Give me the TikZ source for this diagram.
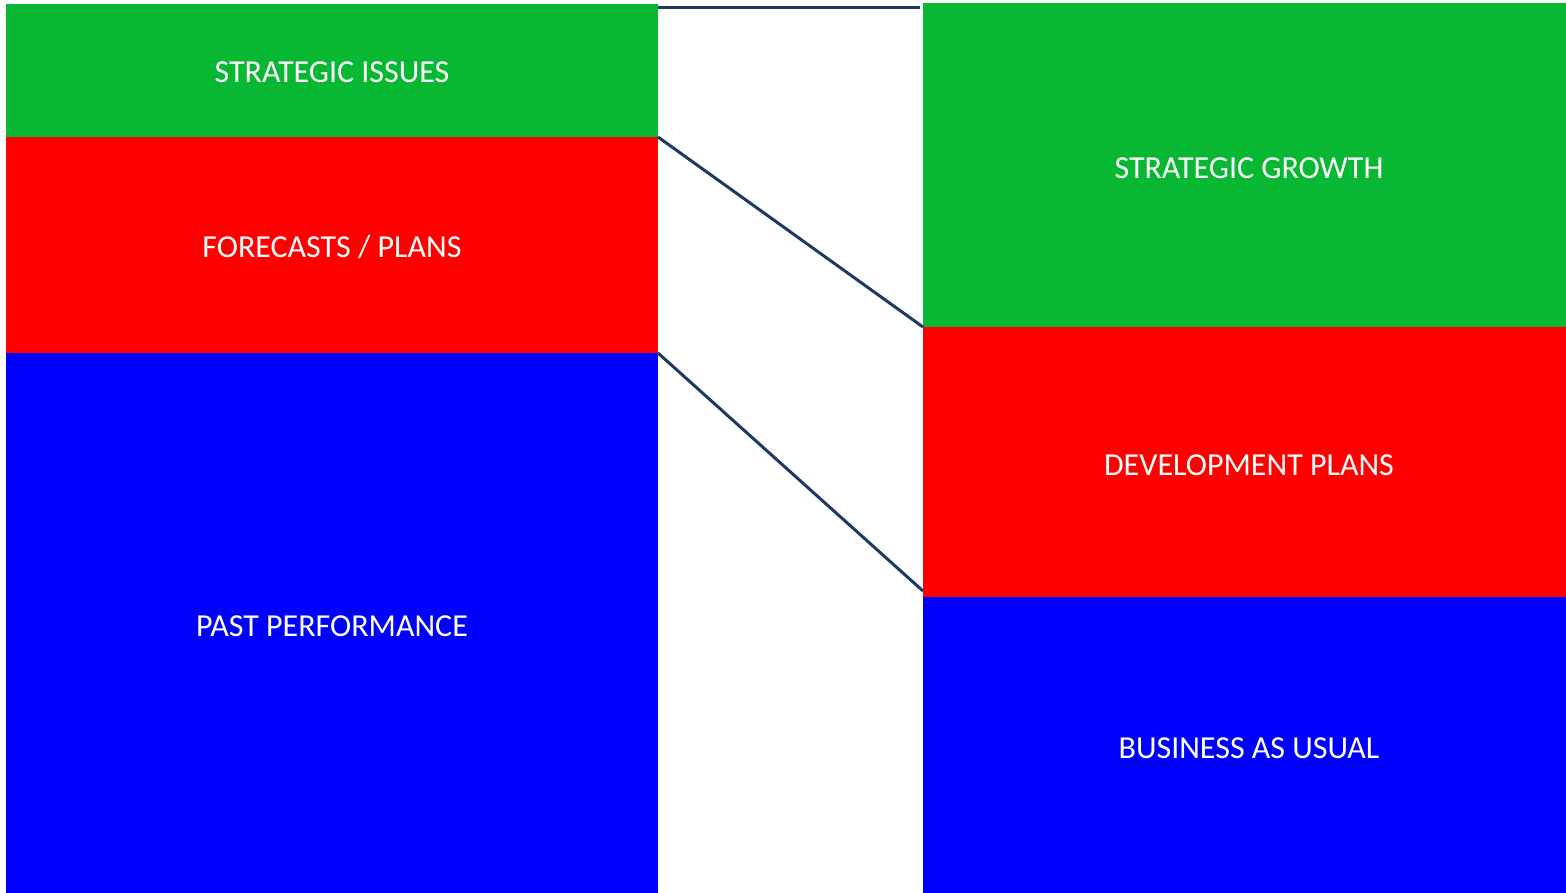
\documentclass[tikz,border=0pt]{standalone}
\usepackage{fontspec}
\setmainfont{Carlito}
\definecolor{bandgreen}{HTML}{08B833}
\definecolor{bandred}{HTML}{FF0000}
\definecolor{bandblue}{HTML}{0000FF}
\definecolor{linknavy}{HTML}{1F3864}
\begin{document}
\begin{tikzpicture}[x=1pt,y=-1pt,
  band/.style={rectangle, inner sep=0pt, outer sep=0pt, text=white,
    font=\fontsize{32}{36}\selectfont},
  link/.style={draw=linknavy, line width=3pt}]
\useasboundingbox (0,0) rectangle (1566,893);
% left column
\path[fill=bandgreen] (6,4) rectangle (658,137);
\path[fill=bandred] (6,137) rectangle (658,353);
\path[fill=bandblue] (6,353) rectangle (658,893);
\node[band] (issues) at (332,72) {STRATEGIC ISSUES};
\node[band] (forecasts) at (332,247) {FORECASTS / PLANS};
\node[band] (past) at (332,626) {PAST PERFORMANCE};
% right column
\path[fill=bandgreen] (923,3) rectangle (1566,327);
\path[fill=bandred] (923,327) rectangle (1566,597);
\path[fill=bandblue] (923,597) rectangle (1566,893);
\node[band] (growth) at (1249,168) {STRATEGIC GROWTH};
\node[band] (devplans) at (1249,465) {DEVELOPMENT PLANS};
\node[band] (bau) at (1249,748) {BUSINESS AS USUAL};
% boundary links
\coordinate (lt) at (658,8);
\coordinate (rt) at (920,8);
\coordinate (lm) at (658,137);
\coordinate (rm) at (923,327);
\coordinate (lb) at (658,353);
\coordinate (rb) at (923,591);
\draw[link] (lt) -- (rt);
\draw[link] (lm) -- (rm);
\draw[link] (lb) -- (rb);
\end{tikzpicture}
\end{document}
